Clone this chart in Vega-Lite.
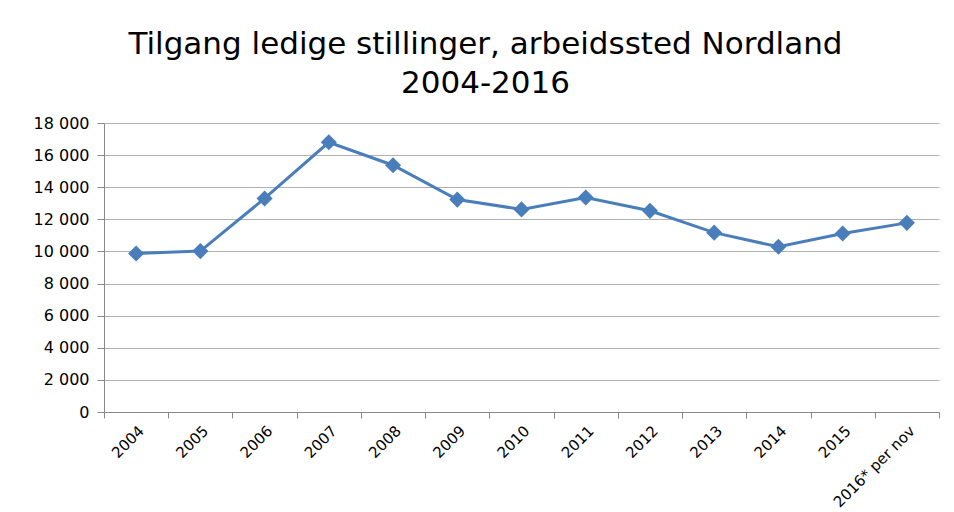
{
  "$schema": "https://vega.github.io/schema/vega-lite/v6.json",
  "width": 835,
  "height": 289,
  "autosize": "none",
  "padding": {"left": 104, "top": 123, "right": 15, "bottom": 100},
  "background": "white",
  "title": {
    "text": ["Tilgang ledige stillinger, arbeidssted Nordland", "2004-2016"],
    "font": "DejaVu Sans",
    "fontSize": 31,
    "fontWeight": "normal",
    "color": "#000000",
    "anchor": "middle",
    "dx": -36,
    "offset": 15,
    "lineHeight": 39
  },
  "data": {
    "values": [
      {"year": "2004", "value": 9870},
      {"year": "2005", "value": 10020},
      {"year": "2006", "value": 13300},
      {"year": "2007", "value": 16800},
      {"year": "2008", "value": 15370},
      {"year": "2009", "value": 13230},
      {"year": "2010", "value": 12620},
      {"year": "2011", "value": 13360},
      {"year": "2012", "value": 12530},
      {"year": "2013", "value": 11170},
      {"year": "2014", "value": 10290},
      {"year": "2015", "value": 11120},
      {"year": "2016* per nov", "value": 11780}
    ]
  },
  "mark": {
    "type": "line",
    "color": "#4a7ebb",
    "strokeWidth": 3,
    "point": {"shape": "diamond", "size": 260, "filled": true, "color": "#4a7ebb", "opacity": 1}
  },
  "encoding": {
    "x": {
      "field": "year",
      "type": "nominal",
      "sort": null,
      "scale": {"type": "band", "paddingInner": 0, "paddingOuter": 0},
      "axis": {
        "title": null,
        "labelAngle": -45,
        "labelFont": "DejaVu Sans",
        "labelFontSize": 15,
        "labelColor": "#000000",
        "tickBand": "extent",
        "tickSize": 6,
        "tickColor": "#888888",
        "domainColor": "#888888",
        "grid": false,
        "labelPadding": 5
      }
    },
    "y": {
      "field": "value",
      "type": "quantitative",
      "scale": {"domain": [0, 18000], "nice": false},
      "axis": {
        "title": null,
        "values": [0, 2000, 4000, 6000, 8000, 10000, 12000, 14000, 16000, 18000],
        "labelExpr": "replace(format(datum.value, ','), ',', ' ')",
        "labelFont": "DejaVu Sans",
        "labelFontSize": 16,
        "labelColor": "#000000",
        "tickSize": 7,
        "tickColor": "#888888",
        "domainColor": "#888888",
        "grid": true,
        "gridColor": "#b0b0b0",
        "labelPadding": 8
      }
    }
  },
  "config": {"view": {"stroke": null}}
}
